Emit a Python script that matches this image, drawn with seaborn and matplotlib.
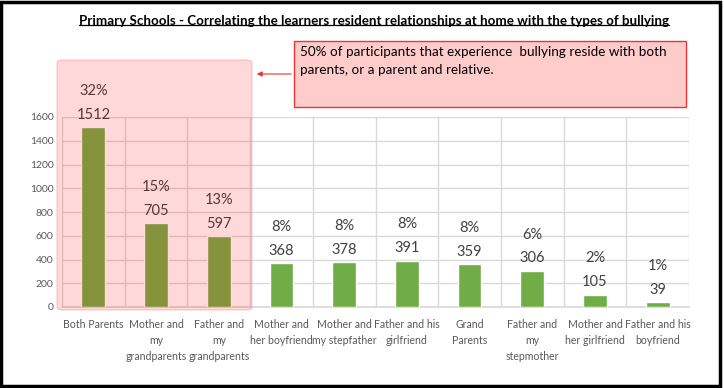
import numpy as np
import matplotlib
matplotlib.use("Agg")
import matplotlib.pyplot as plt
from matplotlib.patches import FancyBboxPatch, Rectangle, FancyArrowPatch
from matplotlib.lines import Line2D
import seaborn as sns

# ── Data ──────────────────────────────────────────────────────────────────────
categories = [
    "Both Parents",
    "Mother and\nmy\ngrandparents",
    "Father and\nmy\ngrandparents",
    "Mother and\nher boyfriend",
    "Mother and\nmy stepfather",
    "Father and his\ngirlfriend",
    "Grand\nParents",
    "Father and\nmy\nstepmother",
    "Mother and\nher girlfriend",
    "Father and his\nboyfriend",
]
counts = [1512, 705, 597, 368, 378, 391, 359, 306, 105, 39]
percents = ["32%", "15%", "13%", "8%", "8%", "8%", "8%", "6%", "2%", "1%"]
y_ticks = [0, 200, 400, 600, 800, 1000, 1200, 1400, 1600]

TITLE = "Primary Schools - Correlating the learners resident relationships at home with the types of bullying"
NOTE = ("50% of participants that experience  bullying reside with both\n"
        "parents, or a parent and relative.")

BAR_GREEN = "#70AD47"
TEXT_GREY = "#404040"
AXIS_GREY = "#595959"
GRID_GREY = "#D9D9D9"

sns.set_theme(style="white")
plt.rcParams["font.family"] = ["Lato", "DejaVu Sans"]

W, H = 724, 388
fig = plt.figure(figsize=(W / 100, H / 100), dpi=100)
ax = fig.add_axes([62 / W, 1 - 307 / H, (689 - 62) / W, (307 - 117) / H])

sns.barplot(x=list(range(len(counts))), y=counts, color=BAR_GREEN,
            width=0.38, ax=ax, zorder=3, saturation=1)

ax.set_xlim(-0.5, len(counts) - 0.5)
ax.set_ylim(0, 1600)
ax.set_yticks(y_ticks)
ax.set_yticklabels([str(v) for v in y_ticks], fontsize=7.5, color=AXIS_GREY)
ax.set_xticks(range(len(categories)))
ax.set_xticklabels(categories, fontsize=7.6, color=AXIS_GREY, linespacing=1.5,
                   va="top")
ax.set_xticks(np.arange(-0.5, len(categories), 1), minor=True)
ax.tick_params(axis="x", which="major", length=0, pad=9)
ax.tick_params(axis="x", which="minor", length=5, color=GRID_GREY, width=1)
ax.tick_params(axis="y", length=0, pad=6)
ax.set_xlabel("")
ax.set_ylabel("")

ax.grid(axis="y", color=GRID_GREY, linewidth=1, zorder=0)
ax.grid(axis="x", which="minor", color=GRID_GREY, linewidth=1, zorder=0)
ax.grid(axis="x", which="major", visible=False)
for s in ["top", "right", "left"]:
    ax.spines[s].set_visible(False)
ax.spines["bottom"].set_color(GRID_GREY)
ax.set_axisbelow(True)

# value and percentage labels
for i, (c, p) in enumerate(zip(counts, percents)):
    ax.annotate(str(c), (i, c), xytext=(0, 9), textcoords="offset points",
                ha="center", va="center", fontsize=10.5, color=TEXT_GREY,
                annotation_clip=False)
    ax.annotate(p, (i, c), xytext=(0, 26), textcoords="offset points",
                ha="center", va="center", fontsize=10.5, color=TEXT_GREY,
                annotation_clip=False)

# title with underline
t = fig.text(374 / W, 1 - 21 / H, TITLE, ha="center", va="center",
             fontsize=9.6, fontweight="bold", color="black")
fig.canvas.draw()
bb = t.get_window_extent().transformed(fig.transFigure.inverted())
fig.add_artist(Line2D([bb.x0, bb.x1], [bb.y0 + 0.004, bb.y0 + 0.004],
                      transform=fig.transFigure, color="black", linewidth=0.9))

# pink highlight over the first three groups
hl = FancyBboxPatch((57 / W, 1 - 310 / H), (252 - 57) / W, (310 - 60) / H,
                    boxstyle="round,pad=0,rounding_size=0.008",
                    transform=fig.transFigure, facecolor=(1, 0, 0, 0.15),
                    edgecolor=(1, 0.3, 0.3, 0.3), linewidth=0.8, zorder=5)
fig.add_artist(hl)

# note box with arrow
note = Rectangle((294 / W, 1 - 107 / H), (686 - 294) / W, (107 - 41) / H,
                 transform=fig.transFigure, facecolor="#FFCCCC",
                 edgecolor="#EE3333", linewidth=1, zorder=6)
fig.add_artist(note)
fig.text(300 / W, 1 - 46 / H, NOTE, ha="left", va="top", fontsize=9.7,
         color="black", linespacing=1.65, zorder=7)
fig.add_artist(FancyArrowPatch(
    (294 / W, 1 - 74 / H), (254 / W, 1 - 74 / H), transform=fig.transFigure,
    arrowstyle="-|>,head_length=3,head_width=1.5", color="#EE3333",
    linewidth=0.8, zorder=6))

# outer frame
fig.add_artist(Rectangle((0.002, 0.004), 0.992, 0.992, transform=fig.transFigure,
                         fill=False, edgecolor="black", linewidth=2.5, zorder=10))

fig.savefig("out.png", dpi=100)
